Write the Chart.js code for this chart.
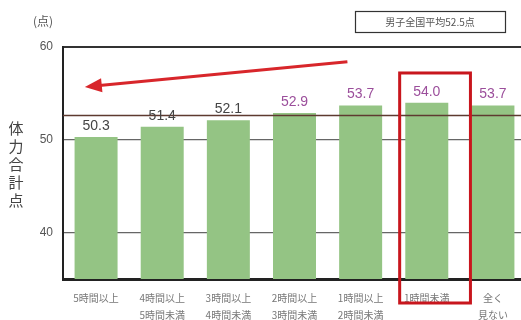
<!DOCTYPE html>
<html>
<head>
<meta charset="utf-8">
<script src="https://cdn.jsdelivr.net/npm/chart.js@4.4.1/dist/chart.umd.min.js"></script>
<style>
  html, body { margin: 0; padding: 0; background: #fff; overflow: hidden; }
  canvas { display: block; }
</style>
</head>
<body>
<canvas id="tvChart" width="528" height="320"></canvas>
<script>
// --- TV viewing time vs. fitness score (boys) ---

const categories = [
    ['5時間以上'],
    ['4時間以上', '5時間未満'],
    ['3時間以上', '4時間未満'],
    ['2時間以上', '3時間未満'],
    ['1時間以上', '2時間未満'],
    ['1時間未満'],
    ['全く', '見ない']
];
const scores = [50.3, 51.4, 52.1, 52.9, 53.7, 54.0, 53.7];
const labelColors = ['#444', '#444', '#444', '#9b4e9b', '#9b4e9b', '#9b4e9b', '#9b4e9b'];
const yTicks = [40, 50, 60];
const nationalAvg = 52.5;
const avgText = '男子全国平均52.5点';
const yTitle = ['体', '力', '合', '計', '点'];
const highlightIndex = 5;

const JP_FONT = '"Noto Sans CJK JP", sans-serif';

// overlays: value labels, average line, arrow, highlight box, titles
const overlayPlugin = {
    id: 'overlay',
    afterDatasetsDraw(chart) {
        const ctx = chart.ctx;
        const y = chart.scales.y;
        const area = chart.chartArea;

        // national average line (drawn over bars)
        const ay = Math.round(y.getPixelForValue(nationalAvg + 0.15)) + 0.5;
        ctx.save();
        ctx.strokeStyle = '#5e3a30';
        ctx.lineWidth = 1.3;
        ctx.beginPath();
        ctx.moveTo(area.left, ay);
        ctx.lineTo(area.right, ay);
        ctx.stroke();

        // value labels
        ctx.font = '14px "Liberation Sans", Arial, sans-serif';
        ctx.textAlign = 'center';
        ctx.textBaseline = 'bottom';
        chart.getDatasetMeta(0).data.forEach((bar, i) => {
            ctx.fillStyle = labelColors[i];
            ctx.fillText(scores[i].toFixed(1), bar.x, bar.y - 4);
        });
        ctx.restore();
    },
    afterDraw(chart) {
        const ctx = chart.ctx;
        const x = chart.scales.x;
        const y = chart.scales.y;
        const area = chart.chartArea;
        ctx.save();

        // red arrow pointing left
        const x0 = x.getPixelForValue(3.8), y0 = y.getPixelForValue(58.4);
        const x1 = x.getPixelForValue(-0.17), y1 = y.getPixelForValue(55.7);
        const ang = Math.atan2(y1 - y0, x1 - x0);
        const cs = Math.cos(ang), sn = Math.sin(ang);
        ctx.strokeStyle = '#d8262b';
        ctx.fillStyle = '#d8262b';
        ctx.lineWidth = 3;
        ctx.beginPath();
        ctx.moveTo(x0, y0);
        ctx.lineTo(x1 - cs * 12, y1 - sn * 12);
        ctx.stroke();
        ctx.beginPath();
        ctx.moveTo(x1, y1);
        ctx.lineTo(x1 - cs * 17 + sn * 7, y1 - sn * 17 - cs * 7);
        ctx.lineTo(x1 - cs * 17 - sn * 7, y1 - sn * 17 + cs * 7);
        ctx.closePath();
        ctx.fill();

        // highlight box around the "1時間未満" bar
        const bl = x.getPixelForValue(highlightIndex - 0.41);
        const br = x.getPixelForValue(highlightIndex + 0.66);
        const bt = y.getPixelForValue(57.2);
        const bb = area.bottom + 24;
        ctx.strokeStyle = '#c8161d';
        ctx.lineWidth = 3;
        ctx.strokeRect(bl, bt, br - bl, bb - bt);

        // legend box
        ctx.strokeStyle = '#333';
        ctx.lineWidth = 1.2;
        ctx.strokeRect(355.5, 11.5, 150, 21);
        ctx.fillStyle = '#555';
        ctx.font = '10px ' + JP_FONT;
        ctx.textAlign = 'center';
        ctx.textBaseline = 'middle';
        ctx.fillText(avgText, 430, 22);

        // unit label
        ctx.fillStyle = '#555';
        ctx.font = '12px ' + JP_FONT;
        ctx.textAlign = 'left';
        ctx.fillText('(点)', 33, 21);

        // vertical y-axis title
        ctx.fillStyle = '#444';
        ctx.font = '15px ' + JP_FONT;
        ctx.textAlign = 'center';
        yTitle.forEach((ch, i) => ctx.fillText(ch, 16, 128 + i * 18));

        ctx.restore();
    }
};

const ctx = document.getElementById('tvChart').getContext('2d');
const tvChart = new Chart(ctx, {
    type: 'bar',
    data: {
        labels: categories,
        datasets: [{
            label: '体力合計点',
            data: scores,
            backgroundColor: '#94c484',
            borderWidth: 0,
            barPercentage: 0.65,
            categoryPercentage: 1.0
        }]
    },
    options: {
        responsive: false,
        animation: false,
        layout: { padding: { left: 0, top: 47, right: 2, bottom: 0 } },
        plugins: {
            legend: { display: false },
            tooltip: { enabled: false }
        },
        scales: {
            x: {
                grid: { display: false },
                border: { display: true, color: '#222', width: 3 },
                ticks: {
                    color: '#777',
                    font: { family: JP_FONT, size: 10, lineHeight: 1.75 },
                    padding: 2,
                    maxRotation: 0,
                    autoSkip: false
                },
                afterFit(scale) { scale.height = 41; }
            },
            y: {
                min: 35,
                max: 60,
                afterBuildTicks(scale) { scale.ticks = yTicks.map(v => ({ value: v })); },
                grid: {
                    color: c => c.tick && c.tick.value === 60 ? '#333' : '#666',
                    lineWidth: c => c.tick && c.tick.value === 60 ? 2 : 1.2,
                    drawTicks: false
                },
                border: { display: true, color: '#222', width: 2 },
                ticks: {
                    color: '#555',
                    font: { family: '"Liberation Sans", Arial, sans-serif', size: 12 },
                    padding: 10
                },
                afterFit(scale) { scale.width = 63; }
            }
        }
    },
    plugins: [overlayPlugin]
});
</script>
</body>
</html>
